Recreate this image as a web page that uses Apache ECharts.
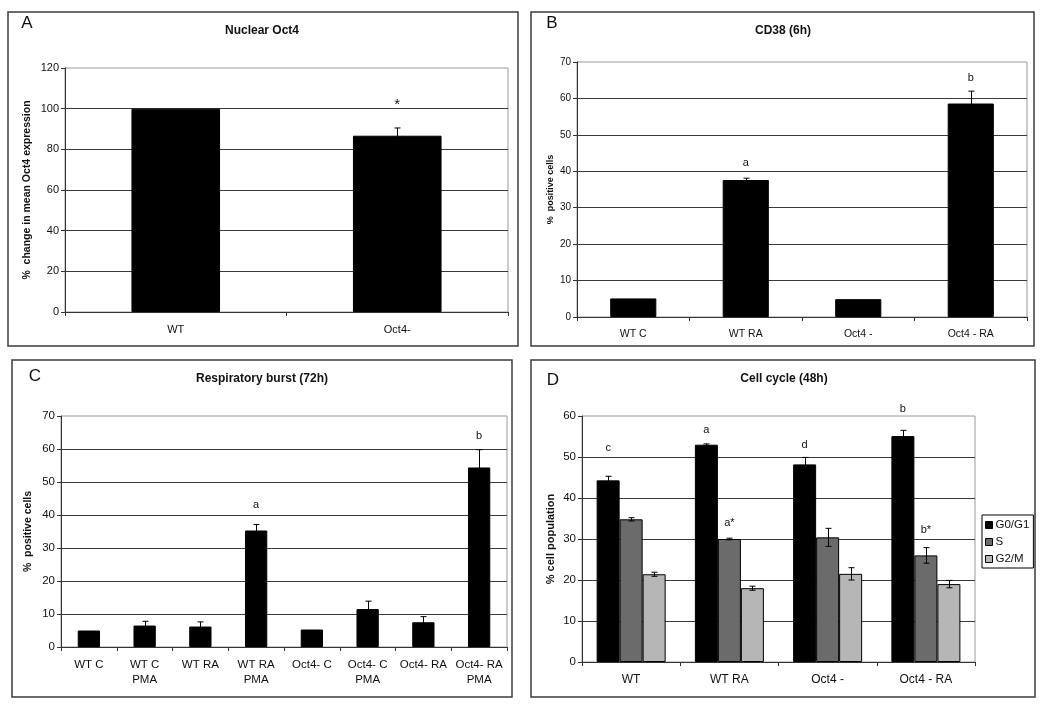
<!DOCTYPE html>
<html>
<head>
<meta charset="utf-8">
<script src="https://cdn.jsdelivr.net/npm/echarts@6/dist/echarts.min.js"></script>
<style>
  html, body { margin: 0; padding: 0; background: #fff; }
  #main { width: 1050px; height: 708px; }
</style>
</head>
<body>
<div id="main"></div>
<script>
// A: Nuclear Oct4
const catsA = ['WT', 'Oct4-'];
const meanA = [100, 86.7];
const errA = [0, 3.8];
const notesA = [[1, 102, '*']];

// B: CD38 (6h)
const catsB = ['WT C', 'WT RA', 'Oct4 -', 'Oct4 - RA'];
const meanB = [5.1, 37.6, 4.9, 58.6];
const errB = [0, 0.5, 0, 3.4];
const notesB = [[1, 42.3, 'a'], [3, 65.7, 'b']];

// C: Respiratory burst (72h)
const catsC = ['WT C', 'WT C\nPMA', 'WT RA', 'WT RA\nPMA', 'Oct4- C', 'Oct4- C\nPMA', 'Oct4- RA', 'Oct4- RA\nPMA'];
const meanC = [5.0, 6.5, 6.2, 35.3, 5.3, 11.5, 7.5, 54.4];
const errC = [0, 1.3, 1.4, 1.8, 0, 2.4, 1.7, 5.4];
const notesC = [[3, 42.9, 'a'], [7, 64.1, 'b']];

// D: Cell cycle (48h)
const catsD = ['WT', 'WT RA', 'Oct4 -', 'Oct4 - RA'];
const phaseNames = ['G0/G1', 'S', 'G2/M'];
const g0g1 = [44.3, 53.0, 48.2, 55.1];
const sPhase = [34.8, 30.0, 30.4, 26.0];
const g2m = [21.4, 18.0, 21.5, 19.0];
const errG0g1 = [1.0, 0.2, 1.7, 1.4];
const errS = [0.4, 0.2, 2.2, 1.9];
const errG2m = [0.5, 0.5, 1.5, 0.9];
// [category, phase, level, text]
const notesD = [[0, 0, 52.3, 'c'], [1, 0, 56.6, 'a'], [2, 0, 52.9, 'd'], [3, 0, 61.6, 'b'], [1, 1, 33.9, 'a*'], [3, 1, 32.2, 'b*']];

const FONT = '"Liberation Sans", Arial, sans-serif';
const D_BAR = 23;

const chart = echarts.init(document.getElementById('main'));

function grid(left, top, width, height) {
  return { left, top, width, height, show: true, borderColor: '#9a9a9a', borderWidth: 1, backgroundColor: 'transparent' };
}

function xAx(idx, cats, size) {
  return {
    type: 'category', gridIndex: idx, data: cats,
    axisLine: { lineStyle: { color: '#333', width: 1 } },
    axisTick: { show: true, length: 4, lineStyle: { color: '#333' } },
    axisLabel: { interval: 0, color: '#111', fontFamily: FONT, fontSize: size, margin: 10, lineHeight: 15 }
  };
}

function yAx(idx, max, step, name, nameSize, gap, labSize) {
  return {
    type: 'value', gridIndex: idx, min: 0, max, interval: step,
    name, nameLocation: 'middle', nameRotate: 90, nameGap: gap,
    nameTextStyle: { fontFamily: FONT, fontWeight: 'bold', fontSize: nameSize, color: '#111' },
    axisLine: { show: true, lineStyle: { color: '#333', width: 1 } },
    axisTick: { show: true, length: 4, lineStyle: { color: '#333' } },
    axisLabel: { color: '#111', fontFamily: FONT, fontSize: labSize, margin: 6 },
    splitLine: { show: true, showMaxLine: false, lineStyle: { color: '#3a3a3a', width: 1 } }
  };
}

function barSeries(idx, name, data, color, width) {
  return {
    type: 'bar', name, xAxisIndex: idx, yAxisIndex: idx, data,
    barWidth: width, barGap: '0%',
    itemStyle: { color, borderColor: '#000', borderWidth: 1 },
    emphasis: { disabled: true }, z: 2
  };
}

function errSeries(idx, mean, err, offset) {
  return {
    type: 'custom', xAxisIndex: idx, yAxisIndex: idx, z: 5, silent: true,
    data: mean.map((m, i) => [i, m, err[i]]),
    renderItem: function (params, api) {
      const e = api.value(2);
      if (!e) return;
      const c = api.value(0), m = api.value(1);
      const top = api.coord([c, m + e]);
      const bot = api.coord([c, m - e]);
      const x = Math.round(top[0] + offset) + 0.5;
      const st = { stroke: '#000', lineWidth: 1 };
      return {
        type: 'group', children: [
          { type: 'line', shape: { x1: x, y1: top[1], x2: x, y2: bot[1] }, style: st },
          { type: 'line', shape: { x1: x - 3, y1: top[1], x2: x + 3, y2: top[1] }, style: st },
          { type: 'line', shape: { x1: x - 3, y1: bot[1], x2: x + 3, y2: bot[1] }, style: st }
        ]
      };
    }
  };
}

function noteSeries(idx, notes, offsetOf, size) {
  return {
    type: 'custom', xAxisIndex: idx, yAxisIndex: idx, z: 6, silent: true, clip: false,
    data: notes.map(n => [n[0], n[n.length - 2]]),
    renderItem: function (params, api) {
      const n = notes[params.dataIndex];
      const p = api.coord([api.value(0), api.value(1)]);
      const off = offsetOf ? offsetOf(n) : 0;
      return {
        type: 'text', x: p[0] + off, y: p[1],
        style: {
          text: n[n.length - 1], font: (size || 11) + 'px ' + FONT, fill: '#111',
          align: 'center', verticalAlign: 'middle', textAlign: 'center', textVerticalAlign: 'middle'
        }
      };
    }
  };
}

function panelText(text, x, y, font) {
  return {
    type: 'text', x, y,
    style: { text, font, fill: '#111', align: 'center', verticalAlign: 'middle', textAlign: 'center', textVerticalAlign: 'middle' }
  };
}

function box(x, y, w, h) {
  return { type: 'rect', shape: { x, y, width: w, height: h }, style: { fill: 'none', stroke: '#3c3c3c', lineWidth: 1.5 }, silent: true };
}

const option = {
  animation: false,
  backgroundColor: '#fff',
  textStyle: { fontFamily: FONT },
  grid: [
    grid(65, 68, 443, 244),
    grid(577, 62, 450, 255),
    grid(61, 416, 446, 231),
    grid(582, 416, 393, 246)
  ],
  xAxis: [
    xAx(0, catsA, 11),
    xAx(1, catsB, 10.5),
    xAx(2, catsC, 11.5),
    xAx(3, catsD, 12)
  ],
  yAxis: [
    yAx(0, 120, 20, '%  change in mean Oct4 expression', 10.5, 32, 11),
    yAx(1, 70, 10, '%  positive cells', 9, 22, 10),
    yAx(2, 70, 10, '%  positive cells', 10.5, 27, 11.5),
    yAx(3, 60, 10, '% cell population', 11, 26, 11.5)
  ],
  legend: {
    data: phaseNames, orient: 'vertical', left: 982, top: 515,
    icon: 'rect', itemWidth: 7, itemHeight: 7, itemGap: 5,
    padding: [4, 4, 3, 3], borderColor: '#000', borderWidth: 1,
    itemStyle: { borderColor: '#000', borderWidth: 1 },
    textStyle: { fontFamily: FONT, fontSize: 11.5, color: '#111', padding: [0, 0, 0, -2] },
    selectedMode: false
  },
  series: [
    barSeries(0, 'A', meanA, '#000', '40%'),
    errSeries(0, meanA, errA, 0),
    noteSeries(0, notesA, null, 15),
    barSeries(1, 'B', meanB, '#000', '41%'),
    errSeries(1, meanB, errB, 0),
    noteSeries(1, notesB),
    barSeries(2, 'C', meanC, '#000', '40%'),
    errSeries(2, meanC, errC, 0),
    noteSeries(2, notesC),
    barSeries(3, phaseNames[0], g0g1, '#000', D_BAR),
    barSeries(3, phaseNames[1], sPhase, '#6b6b6b', D_BAR),
    barSeries(3, phaseNames[2], g2m, '#b6b6b6', D_BAR),
    errSeries(3, g0g1, errG0g1, -D_BAR),
    errSeries(3, sPhase, errS, 0),
    errSeries(3, g2m, errG2m, D_BAR),
    noteSeries(3, notesD, n => (n[1] - 1) * D_BAR)
  ],
  graphic: [
    box(8, 12, 510, 334),
    box(531, 12, 503, 334),
    box(12, 360, 500, 337),
    box(531, 360, 504, 337),
    panelText('A', 27, 23, '17px ' + FONT),
    panelText('B', 552, 23, '17px ' + FONT),
    panelText('C', 35, 376, '17px ' + FONT),
    panelText('D', 553, 380, '17px ' + FONT),
    panelText('Nuclear Oct4', 262, 31, 'bold 12px ' + FONT),
    panelText('CD38 (6h)', 783, 31, 'bold 12px ' + FONT),
    panelText('Respiratory burst (72h)', 262, 379, 'bold 12px ' + FONT),
    panelText('Cell cycle (48h)', 784, 379, 'bold 12px ' + FONT)
  ]
};

chart.setOption(option);
</script>
</body>
</html>
